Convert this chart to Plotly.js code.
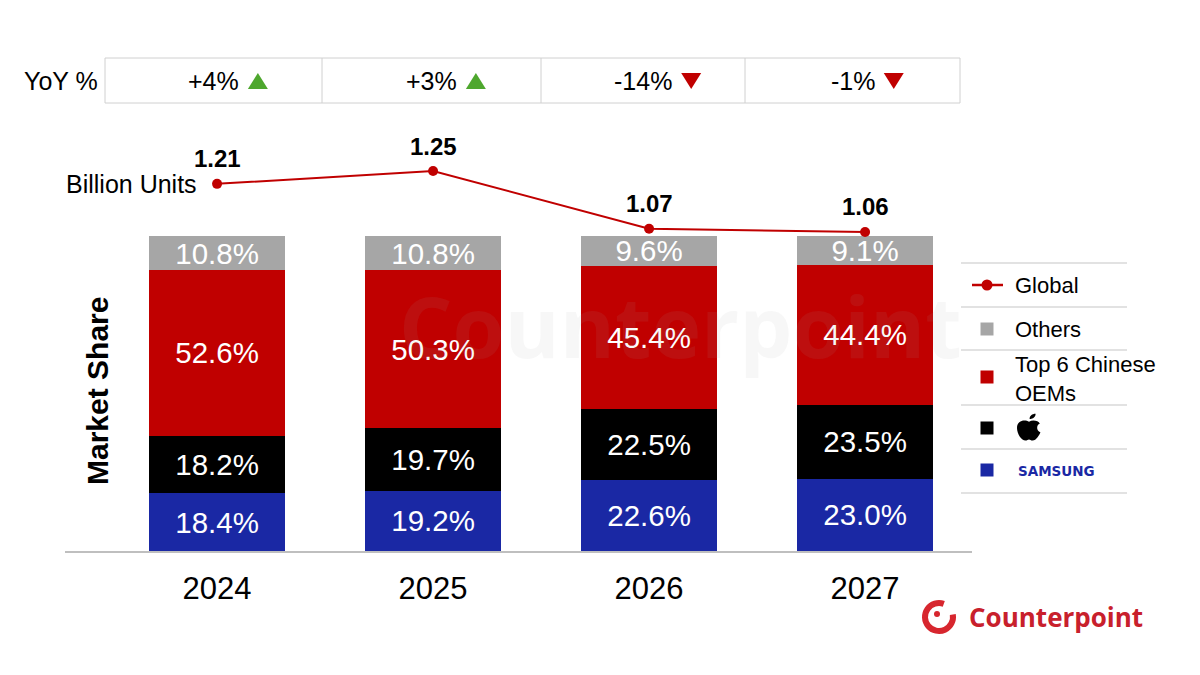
<!DOCTYPE html>
<html>
<head>
<meta charset="utf-8">
<script src="https://cdn.plot.ly/plotly-3.0.1.min.js"></script>
<style>html,body{margin:0;padding:0;background:#fff;}#chart{width:1200px;height:675px;}</style>
</head>
<body>
<div id="chart"></div>
<script>
// ---- data ----
const years = ['2024', '2025', '2026', '2027'];
const samsungShare = [18.4, 19.2, 22.6, 23.0];
const appleShare = [18.2, 19.7, 22.5, 23.5];
const chineseShare = [52.6, 50.3, 45.4, 44.4];
const othersShare = [10.8, 10.8, 9.6, 9.1];
const globalUnits = [1.21, 1.25, 1.07, 1.06];
const yoyText = ['+4%', '+3%', '-14%', '-1%'];
const yoyUp = [true, true, false, false];

const FONT = 'Liberation Sans, Arial, sans-serif';
const RED = '#C00000', BLUE = '#1A28A4', GRAY = '#A6A6A6', GREEN = '#4EA72E';

// pixel -> paper helpers for decorations (plot area: x 65..972, y 150..551)
const L = 65, R = 228, T = 150, B = 124, W = 1200 - L - R, H = 675 - T - B;
const px = v => (v - L) / W;
const py = v => (675 - B - v) / H;

function barTrace(name, vals, color) {
  return {
    type: 'bar', name: name, x: years, y: vals,
    marker: {color: color, line: {width: 0}},
    width: 0.63,
    text: vals.map(v => v.toFixed(1) + '%'),
    textposition: 'inside', insidetextanchor: 'middle', textangle: 0,
    constraintext: 'none',
    textfont: {family: FONT, size: 29.5, color: '#FFFFFF'},
    hoverinfo: 'skip', showlegend: false
  };
}

const traces = [
  barTrace('Samsung', samsungShare, BLUE),
  barTrace('Apple', appleShare, '#000000'),
  barTrace('Top 6 Chinese OEMs', chineseShare, RED),
  barTrace('Others', othersShare, GRAY),
  {
    type: 'scatter', mode: 'lines+markers', name: 'Global',
    x: years, y: globalUnits, yaxis: 'y2',
    line: {color: RED, width: 2}, marker: {color: RED, size: 10},
    hoverinfo: 'skip', showlegend: false
  }
];

const annotations = [];
const shapes = [];
function note(o) {
  annotations.push(Object.assign({showarrow: false, xanchor: 'center', yanchor: 'middle'}, o));
}

// line labels (x by category index)
years.forEach((yr, i) => {
  note({x: i, y: globalUnits[i], xref: 'x', yref: 'y2', yshift: 25,
    text: '<b>' + globalUnits[i].toFixed(2) + '</b>',
    font: {family: FONT, size: 24, color: '#000'}});
});
note({x: 0, y: globalUnits[0], xref: 'x', yref: 'y2', xanchor: 'right', xshift: -18,
  text: 'Billion Units', font: {family: FONT, size: 25, color: '#000'}});

// Market share title
note({x: px(97), y: py(391), xref: 'paper', yref: 'paper', textangle: -90,
  text: '<b>Market Share</b>', font: {family: FONT, size: 30, color: '#000'}});

// YoY row (table cells)
const cellEdges = [105, 322, 541, 745, 960];
note({x: px(100), y: py(81), xref: 'paper', yref: 'paper', xanchor: 'right',
  text: 'YoY %', font: {family: FONT, size: 25, color: '#000'}});
const charW = {'+': 0.584, '-': 0.333, '%': 0.889};
years.forEach((yr, i) => {
  const cx = (cellEdges[i] + cellEdges[i + 1]) / 2;
  note({x: px(cx), y: py(81), xref: 'paper', yref: 'paper',
    text: yoyText[i], font: {family: FONT, size: 25, color: '#000'}});
  const tw = yoyText[i].split('').reduce((s, c) => s + (charW[c] || 0.556), 0) * 25;
  const up = yoyUp[i];
  shapes.push({type: 'path', xref: 'paper', yref: 'paper', xsizemode: 'pixel', ysizemode: 'pixel',
    xanchor: px(cx + tw / 2 + 19), yanchor: py(81),
    path: up ? 'M -10 -8 L 10 -8 L 0 8 Z' : 'M -10 8 L 10 8 L 0 -8 Z',
    fillcolor: up ? GREEN : RED, line: {width: 0}});
});
shapes.push({type: 'rect', xref: 'paper', yref: 'paper', x0: px(105), x1: px(960), y0: py(103), y1: py(58),
  line: {color: '#D0D0D0', width: 1}, fillcolor: 'rgba(0,0,0,0)'});
cellEdges.slice(1, 4).forEach(v => shapes.push({type: 'line', xref: 'paper', yref: 'paper',
  x0: px(v), x1: px(v), y0: py(103), y1: py(58), line: {color: '#D0D0D0', width: 1}}));

// Legend
[263, 307, 350, 405, 449, 493].forEach(v => shapes.push({type: 'line', xref: 'paper', yref: 'paper',
  x0: px(961), x1: px(1127), y0: py(v), y1: py(v), line: {color: '#D9D9D9', width: 1.5}}));
const symX = px(987), txtX = px(1013);
shapes.push({type: 'line', xref: 'paper', yref: 'paper', x0: px(972), x1: px(1003), y0: py(285), y1: py(285),
  line: {color: RED, width: 2.5}});
shapes.push({type: 'circle', xref: 'paper', yref: 'paper', xsizemode: 'pixel', ysizemode: 'pixel',
  xanchor: symX, yanchor: py(285), x0: -5.5, x1: 5.5, y0: -5.5, y1: 5.5, fillcolor: RED, line: {width: 0}});
[[329, GRAY], [377, RED], [428, '#000000'], [470, BLUE]].forEach(([yy, c]) => shapes.push({
  type: 'rect', xref: 'paper', yref: 'paper', xsizemode: 'pixel', ysizemode: 'pixel',
  xanchor: symX, yanchor: py(yy), x0: -6.5, x1: 6.5, y0: -6.5, y1: 6.5, fillcolor: c, line: {width: 0}}));
note({x: txtX, y: py(285), xref: 'paper', yref: 'paper', xanchor: 'left',
  text: 'Global', font: {family: FONT, size: 22, color: '#000'}});
note({x: txtX, y: py(329), xref: 'paper', yref: 'paper', xanchor: 'left',
  text: 'Others', font: {family: FONT, size: 22, color: '#000'}});
note({x: txtX, y: py(379), xref: 'paper', yref: 'paper', xanchor: 'left', align: 'left',
  text: 'Top 6 Chinese<br>OEMs', font: {family: FONT, size: 22, color: '#000'}});
note({x: px(1016), y: py(471), xref: 'paper', yref: 'paper', xanchor: 'left',
  text: '<b>SAMSUNG</b>', font: {family: 'DejaVu Sans, sans-serif', size: 13.5, color: BLUE}});

// apple glyph as path (pixel offsets, y up)
const appleBody = [['M',0,6],['C',-3,8,-10,8,-10,0],['C',-10,-6,-6,-12,-3,-12],['C',-1.5,-12,-1,-11,0,-11],
  ['C',1,-11,1.5,-12,3,-12],['C',6,-12,9,-6,9.5,-4],['C',6,-3,6,3,9,4],['C',8,7,3,8,0,6]];
const appleLeaf = [['M',0.5,8.5],['C',0.5,11.5,2.5,13.5,5.5,13.5],['C',5.5,10.5,3.5,8.5,0.5,8.5]];
const sx = 1.2, sy = 1.05;
function toPath(segs) {
  return segs.map(s => s[0] + ' ' + s.slice(1).map((v, k) => (k % 2 === 0 ? v * sx : v * sy).toFixed(2)).join(' ')).join(' ') + ' Z';
}
shapes.push({type: 'path', xref: 'paper', yref: 'paper', xsizemode: 'pixel', ysizemode: 'pixel',
  xanchor: px(1029), yanchor: py(428), path: toPath(appleBody) + ' ' + toPath(appleLeaf),
  fillcolor: '#000', line: {width: 0}});

// Counterpoint logo
const ring = 'M 4.79 13.16 C -1.17 15.33 -7.83 13.22 -11.47 8.03 C -15.11 2.84 -14.80 -4.14 -10.72 -9.0 ' +
  'C -6.64 -13.86 0.18 -15.37 5.92 -12.69 C 11.66 -10.01 14.89 -3.81 13.79 2.43';
shapes.push({type: 'path', xref: 'paper', yref: 'paper', xsizemode: 'pixel', ysizemode: 'pixel',
  xanchor: px(939), yanchor: py(617), path: ring, line: {color: '#D7262E', width: 6}, fillcolor: 'rgba(0,0,0,0)'});
shapes.push({type: 'circle', xref: 'paper', yref: 'paper', xsizemode: 'pixel', ysizemode: 'pixel',
  xanchor: px(939), yanchor: py(617), x0: -5, x1: 1, y0: 0, y1: 6, fillcolor: '#D7262E', line: {width: 0}});
note({x: px(967), y: py(617), xref: 'paper', yref: 'paper', xanchor: 'left',
  text: '<b>Counterpoint</b>', font: {family: 'Open Sans, Noto Sans, sans-serif', size: 26, color: '#C8202C'}});

// faint watermark
note({x: px(680), y: py(325), xref: 'paper', yref: 'paper',
  text: '<b>Counterpoint</b>', font: {family: 'Open Sans, Noto Sans, sans-serif', size: 84, color: 'rgba(170,170,170,0.09)'}});

const layout = {
  width: 1200, height: 675,
  margin: {l: L, r: R, t: T, b: B, pad: 0},
  paper_bgcolor: '#fff', plot_bgcolor: '#fff',
  barmode: 'stack', bargap: 0.37,
  showlegend: false,
  font: {family: FONT, color: '#000'},
  xaxis: {type: 'category', range: [-0.704, 3.495], showline: true, linecolor: '#BFBFBF', linewidth: 1.5,
    showgrid: false, zeroline: false, ticks: '', ticklabelstandoff: 9,
    tickfont: {family: FONT, size: 31, color: '#000'}, fixedrange: true},
  yaxis: {range: [0, 100 * H / 315], visible: false, showgrid: false, zeroline: false, fixedrange: true},
  yaxis2: {overlaying: 'y', range: [1.06 - (551 - 232) / 321, 1.25 + (171 - T) / 321], visible: false,
    showgrid: false, zeroline: false, fixedrange: true},
  annotations: annotations,
  shapes: shapes
};

Plotly.newPlot('chart', traces, layout, {displayModeBar: false, staticPlot: true});
</script>
</body>
</html>
